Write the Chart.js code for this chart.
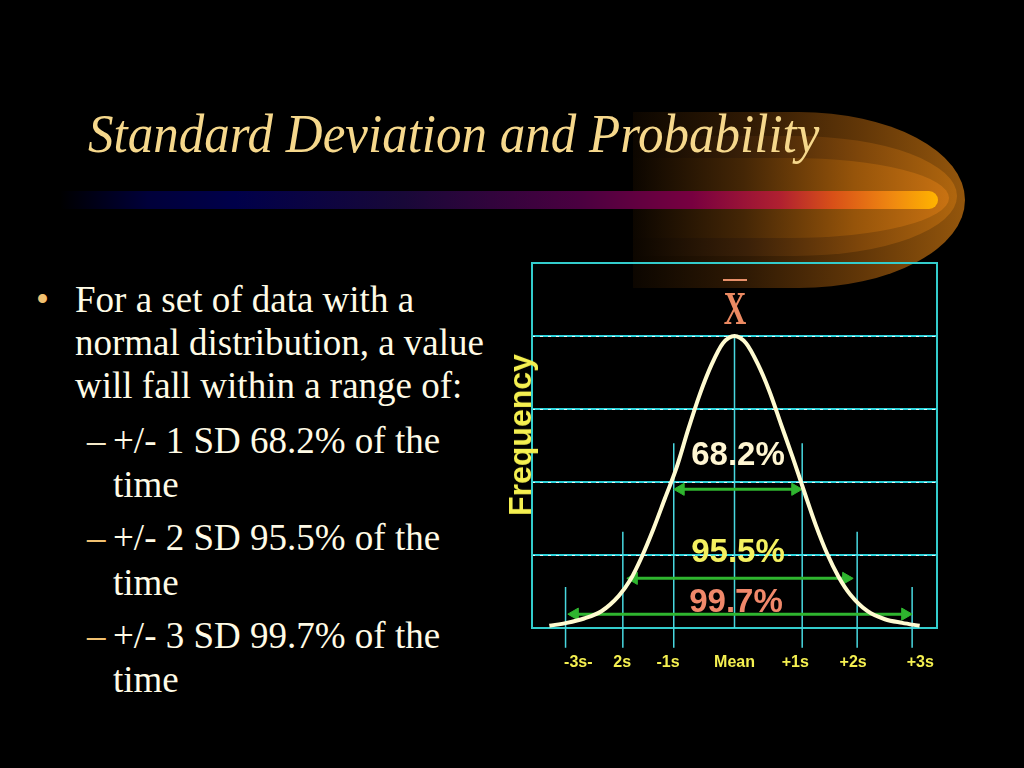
<!DOCTYPE html>
<html>
<head>
<meta charset="utf-8">
<script src="https://cdn.jsdelivr.net/npm/chart.js@4.4.0/dist/chart.umd.min.js"></script>
<style>
  body { margin:0; background:#000; width:1024px; height:768px; overflow:hidden; position:relative; }
  .abs { position:absolute; }
  .sw { position:absolute; border-radius:0 50% 50% 0 / 0 50% 50% 0; }
  #sw1 { left:633px; top:112px; width:332px; height:176px;
         background:linear-gradient(to right,#0c0600 0%,#301a04 35%,#643808 70%,#94560c 100%); }
  #sw2 { left:633px; top:136px; width:324px; height:120px;
         background:linear-gradient(to right,#0c0600 0%,#3a2008 35%,#7e460a 70%,#b0660e 100%); }
  #sw3 { left:633px; top:158px; width:316px; height:80px;
         background:linear-gradient(to right,#0c0600 0%,#442606 35%,#96540a 70%,#c87212 100%); }
  #bar { left:60px; top:191px; width:878px; height:18px; border-radius:0 9px 9px 0;
         background:linear-gradient(to right,#000 0%,#00003a 10%,#00004a 20%,#180838 39%,#4a0040 59%,#780040 72%,#b02030 82%,#d85018 88%,#f08a10 95%,#ffb400 100%); }
  #title { left:88px; top:102px; margin:0; font:italic 51px "Liberation Serif", serif; color:#f6d88c; white-space:nowrap;
           transform:scaleY(1.08); transform-origin:left top; }
  .txt { position:absolute; font:37px "Liberation Serif", serif; color:#fffbe6; white-space:nowrap; line-height:37px; }
  .mark { color:#f0c070; }
  .pct { position:absolute; transform:translate(-50%,-50%); font:bold 33px "Liberation Sans", Arial, sans-serif; line-height:1; white-space:nowrap; }
  #chart { position:absolute; left:0; top:0; }
</style>
</head>
<body>
<div class="sw" id="sw1"></div>
<div class="sw" id="sw2"></div>
<div class="sw" id="sw3"></div>
<div class="abs" id="bar"></div>
<h1 class="abs" id="title">Standard Deviation and Probability</h1>

<div class="txt mark" style="left:36px;top:281px">•</div>
<div class="txt" style="left:75px;top:281px">For a set of data with a</div>
<div class="txt" style="left:75px;top:324px">normal distribution, a value</div>
<div class="txt" style="left:75px;top:367px">will fall within a range of:</div>
<div class="txt" style="left:87px;top:422px;color:#f4e8c8">–</div>
<div class="txt" style="left:113px;top:422px">+/- 1 SD 68.2% of the</div>
<div class="txt" style="left:113px;top:466px">time</div>
<div class="txt mark" style="left:87px;top:519px">–</div>
<div class="txt" style="left:113px;top:519px">+/- 2 SD 95.5% of the</div>
<div class="txt" style="left:113px;top:564px">time</div>
<div class="txt mark" style="left:87px;top:617px">–</div>
<div class="txt" style="left:113px;top:617px">+/- 3 SD 99.7% of the</div>
<div class="txt" style="left:113px;top:661px">time</div>

<canvas id="chart" width="1024" height="768"></canvas>

<div class="abs" style="left:723px;top:279px;width:24px;height:2px;background:#e8906a"></div>
<div class="pct" style="left:735px;top:308px;font:bold 46px 'Liberation Serif',serif;color:#ec8a62;transform:translate(-50%,-50%) scaleX(0.68)">X</div>
<div class="pct" style="left:738px;top:453px;color:#fff6d2">68.2%</div>
<div class="pct" style="left:738px;top:550px;color:#f4f060">95.5%</div>
<div class="pct" style="left:736px;top:600px;color:#f0886a">99.7%</div>
<div class="pct" style="left:520px;top:435px;font-size:32px;color:#f5f050;transform:translate(-50%,-50%) rotate(-90deg)">Frequency</div>

<script>
// bell curve: x in SD units from the mean, y in grid rows (0..5)
const curveX = [-3.2, -2.9, -2.6, -2.3, -2.0, -1.8, -1.6, -1.4, -1.2, -1.0, -0.8, -0.6, -0.4, -0.2, 0,
                0.2, 0.4, 0.6, 0.8, 1.0, 1.2, 1.4, 1.6, 1.8, 2.0, 2.3, 2.6, 2.9, 3.2];
const curveY = [0.03, 0.07, 0.13, 0.23, 0.44, 0.66, 0.98, 1.36, 1.78, 2.2, 2.72, 3.2, 3.6, 3.9, 4.0,
                3.9, 3.62, 3.25, 2.8, 2.35, 1.88, 1.42, 1.02, 0.7, 0.46, 0.23, 0.12, 0.07, 0.03];

// vertical SD markers
const sdLineX = [-2.92, -1.93, -1.05, 0, 1.17, 2.12, 3.07];
const sdLineTop = [0.56, 1.32, 2.53, 4, 2.53, 1.32, 0.56];
const sdLineBottom = [-0.27, -0.27, -0.27, 0, -0.27, -0.27, -0.27];

// double arrows for 68.2 / 95.5 / 99.7
const arrowY = [1.9, 0.68, 0.19];
const arrowFrom = [-0.93, -1.74, -2.76];
const arrowTo = [1.05, 1.93, 2.95];

const tickPos = [-2.70, -1.94, -1.15, 0, 1.05, 2.05, 3.21];
const tickLabels = ['-3s-', '2s', '-1s', 'Mean', '+1s', '+2s', '+3s'];

const cyan = '#33cccc';
const green = '#2fb52f';

const datasets = [];
datasets.push({
  data: curveX.map((x, i) => ({ x, y: curveY[i] })),
  borderColor: '#fffbd0', borderWidth: 4, pointRadius: 0,
  cubicInterpolationMode: 'monotone', order: 0
});
sdLineX.forEach((x, i) => {
  datasets.push({
    data: [{ x, y: sdLineTop[i] }, { x, y: sdLineBottom[i] }],
    borderColor: '#48d8e0', borderWidth: 1.5, pointRadius: 0, clip: false, order: 2
  });
});
arrowY.forEach((y, i) => {
  datasets.push({
    data: [{ x: arrowFrom[i], y }, { x: arrowTo[i], y }],
    borderColor: green, backgroundColor: green, borderWidth: 3,
    pointStyle: 'triangle', pointRadius: 7, pointRotation: [270, 90], pointBorderWidth: 1,
    order: 1
  });
});

const boxBorder = {
  id: 'boxBorder',
  beforeDatasetsDraw(chart) {
    const { ctx, chartArea: a } = chart;
    ctx.save();
    ctx.strokeStyle = cyan;
    ctx.lineWidth = 2;
    ctx.strokeRect(a.left, a.top, a.width, a.height);
    ctx.restore();
  }
};

new Chart(document.getElementById('chart'), {
  type: 'line',
  data: { datasets },
  plugins: [boxBorder],
  options: {
    responsive: false,
    animation: false,
    layout: { padding: { left: 532, top: 263, right: 87, bottom: 95 } },
    plugins: { legend: { display: false }, tooltip: { enabled: false } },
    scales: {
      x: {
        type: 'linear', min: -3.5, max: 3.5,
        afterBuildTicks: axis => { axis.ticks = tickPos.map(v => ({ value: v })); },
        afterFit: axis => { axis.height = 45; },
        grid: { display: false, drawTicks: false },
        border: { display: false },
        ticks: {
          autoSkip: false, maxRotation: 0, padding: 25,
          color: '#f5f050', font: { family: 'Liberation Sans', weight: 'bold', size: 16 },
          callback: (v, i) => tickLabels[i]
        }
      },
      y: {
        min: 0, max: 5,
        afterFit: axis => { axis.width = 0; },
        ticks: { display: false, stepSize: 1 },
        grid: { color: '#2fd4dc', lineWidth: 2, drawTicks: false },
        border: { display: false }
      },
      y2: {
        position: 'left', min: 0, max: 5,
        afterFit: axis => { axis.width = 0; },
        ticks: { display: false, stepSize: 1 },
        grid: { color: 'rgba(255,255,255,0.85)', lineWidth: 1, drawTicks: false },
        border: { display: false, dash: [3, 5] }
      }
    }
  }
});
</script>
</body>
</html>
